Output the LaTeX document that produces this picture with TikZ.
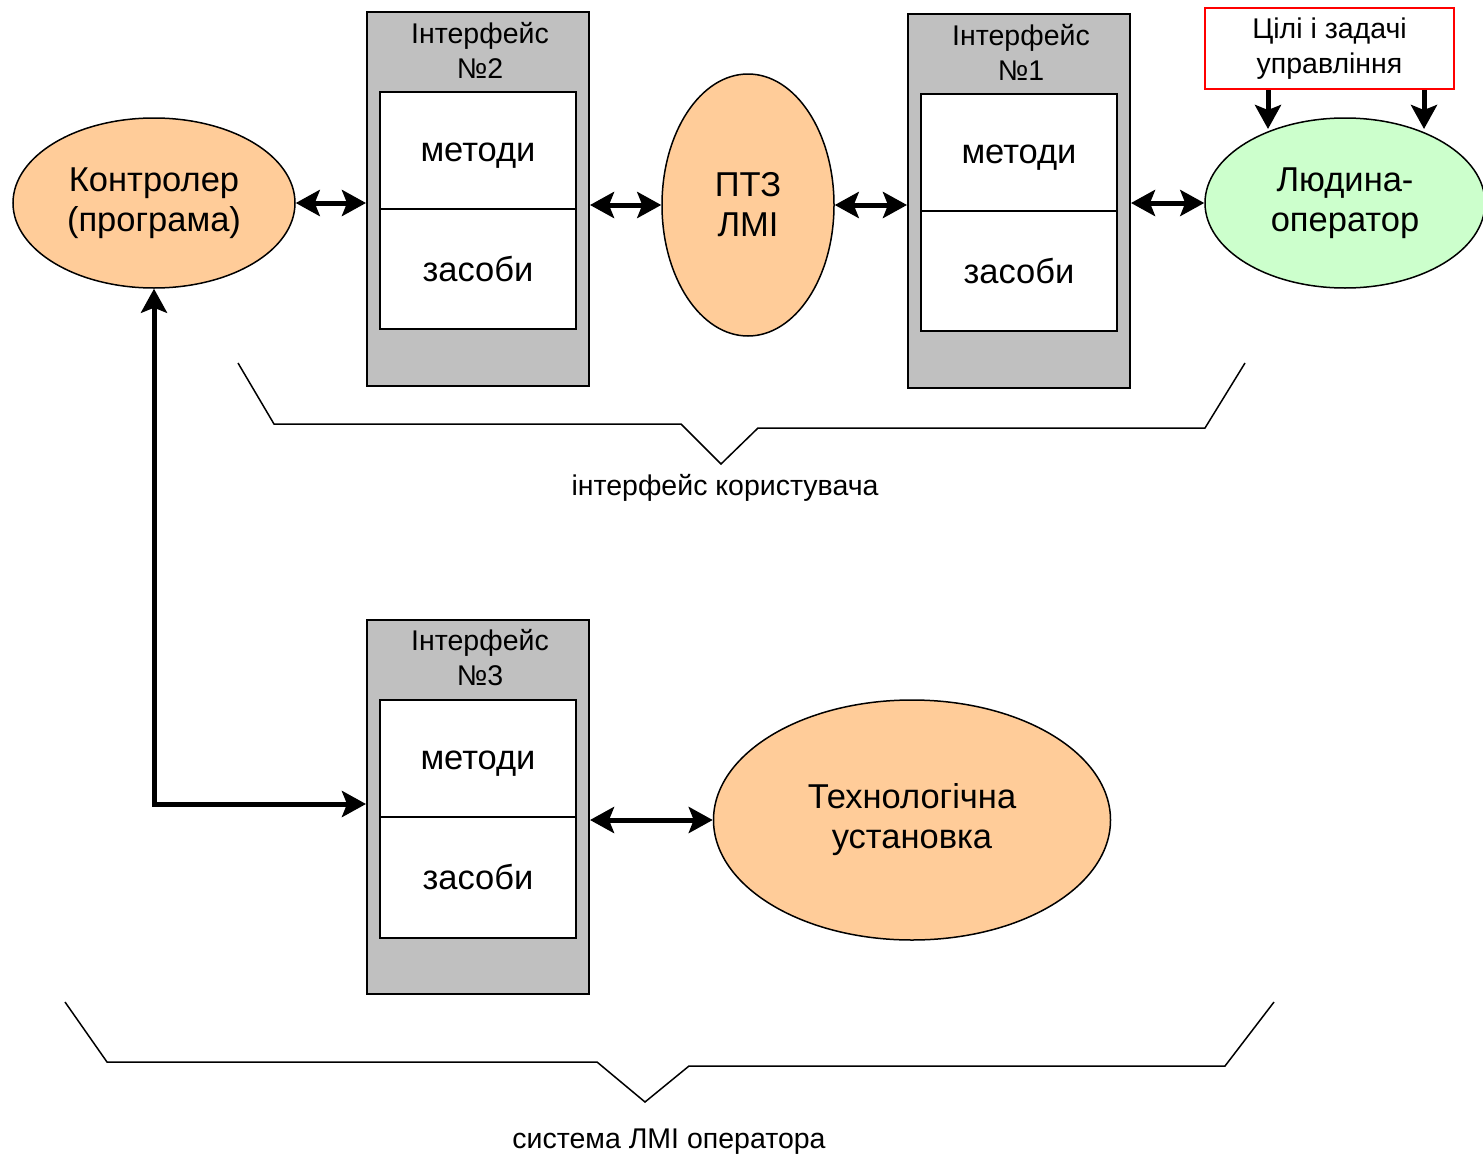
\documentclass[tikz,border=0pt]{standalone}
\usepackage{fontspec}
\setmainfont{Liberation Sans}
\usetikzlibrary{arrows.meta,shapes.geometric}
\definecolor{peach}{HTML}{FFCC99}
\definecolor{mint}{HTML}{CCFFCC}
\definecolor{boxgray}{HTML}{C0C0C0}
\begin{document}
\begin{tikzpicture}[x=1pt,y=-1pt,
  bigtxt/.style={font=\fontsize{34.5}{40}\selectfont, align=center},
  smalltxt/.style={font=\fontsize{28.5}{35}\selectfont, align=center},
  oval/.style={ellipse, draw, line width=1.5pt, inner sep=0pt, bigtxt},
  frame/.style={draw, line width=2pt, fill=boxgray, minimum width=222pt, minimum height=374pt, inner sep=0pt},
  cell/.style={draw, line width=1.5pt, fill=white, minimum width=196pt, inner sep=0pt, bigtxt},
  mcell/.style={cell, minimum height=117pt, text height=30pt, text depth=7.3pt},
  thick arrow/.style={line width=5pt, -{Stealth[length=24pt,width=26pt,inset=5pt]}},
  dbl arrow/.style={line width=5pt, {Stealth[length=24pt,width=26pt,inset=5pt]}-{Stealth[length=24pt,width=26pt,inset=5pt]}},
  brace/.style={line width=1.5pt, line join=miter}
]
\useasboundingbox (0,0) rectangle (1483,1159);

% ellipses
\node[oval, fill=peach, minimum width=282pt, minimum height=170pt] (ctrl) at (154,203) {Контролер\\(програма)};
\node[oval, fill=peach, minimum width=172pt, minimum height=262pt] (ptz) at (748,205) {ПТЗ\\ЛМІ};
\node[oval, fill=mint, minimum width=280pt, minimum height=170pt] (man) at (1345,203) {Людина-\\оператор};
\node[oval, fill=peach, minimum width=397pt, minimum height=240pt] (tech) at (912,820) {Технологічна\\установка};

% interface 2
\node[frame] (if2) at (478,199) {};
\node[smalltxt] (if2t) at (480,50) {Інтерфейс\\№2};
\node[mcell] (if2m) at (478,150.5) {методи};
\node[cell, minimum height=120pt] (if2z) at (478,269) {засоби};

% interface 1
\node[frame] (if1) at (1019,201) {};
\node[smalltxt] (if1t) at (1021,52) {Інтерфейс\\№1};
\node[mcell] (if1m) at (1019,152.5) {методи};
\node[cell, minimum height=120pt] (if1z) at (1019,271) {засоби};

% interface 3
\node[frame] (if3) at (478,807) {};
\node[smalltxt] (if3t) at (480,658) {Інтерфейс\\№3};
\node[mcell] (if3m) at (478,758.5) {методи};
\node[cell, minimum height=121pt] (if3z) at (478,877.5) {засоби};

% goals box
\node[draw=red, line width=1.5pt, minimum width=249pt, minimum height=81pt, inner sep=0pt, smalltxt] (goal) at (1329.5,48.5) {Цілі і задачі\\управління};

% arrows
\draw[dbl arrow] (ctrl.east) -- (ctrl.east -| if2.west);
\draw[dbl arrow] (if2.east |- ptz.west) -- (ptz.west);
\draw[dbl arrow] (ptz.east) -- (ptz.east -| if1.west);
\draw[dbl arrow] (if1.east |- man.west) -- (man.west);
\draw[dbl arrow] (if3.east |- tech.west) -- (tech.west);
\coordinate (corner) at (154,804);
\draw[dbl arrow, line join=miter] (ctrl.south) -- (corner) -- (corner -| if3.west);

\coordinate (g1) at (1268,129);
\coordinate (g2) at (1424,129);
\draw[thick arrow] (g1 |- goal.south) -- (g1);
\draw[thick arrow] (g2 |- goal.south) -- (g2);

% braces
\draw[brace] (238,363) -- (274,424) -- (681,424) -- (721,464) -- (758,428) -- (1205,428) -- (1245,363);
\node[smalltxt] (lab1) at (725,488) {інтерфейс користувача};
\draw[brace] (65,1002) -- (107,1062) -- (597,1062) -- (645,1102) -- (689,1066) -- (1225,1066) -- (1274,1002);
\node[smalltxt] (lab2) at (669,1142) {система ЛМІ оператора};
\end{tikzpicture}
\end{document}
